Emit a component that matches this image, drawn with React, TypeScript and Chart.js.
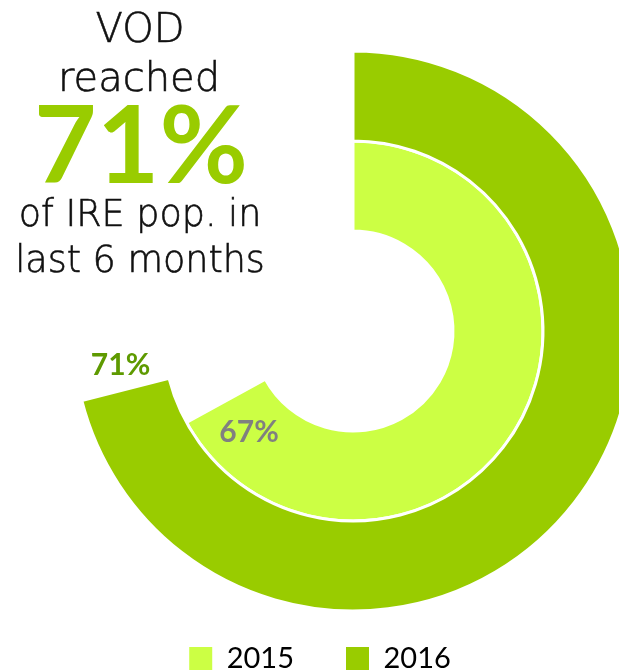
import React, { useEffect, useRef } from 'react';
import { Chart, registerables } from 'chart.js';

Chart.register(...registerables);

// ---- data ----
const years = ['2015', '2016'];
const reachPct = [67, 71];
const fullScale = 100;
const headlineTop = ['VOD', 'reached'];
const headlineBottom = ['of IRE pop. in', 'last 6 months'];

// ---- styles ----
const yearColors = ['#CCFF44', '#99CC00'];
const labelColors = ['#808080', '#5E9A00'];

const calloutPlugin = {
  id: 'callout',
  afterLayout(chart: any) {
    const lg = chart.legend;
    if (!lg) return;
    const pad = lg.options.labels.padding;
    const dx = 320 - (lg.left + lg.right) / 2;
    const dy = 644 - pad - lg.top;
    lg.left += dx;
    lg.right += dx;
    lg.top += dy;
    lg.bottom += dy;
  },
  afterDatasetsDraw(chart: any) {
    const ctx = chart.ctx;
    ctx.save();
    ctx.textAlign = 'center';
    ctx.textBaseline = 'middle';
    ctx.font = 'bold 30px Lato';
    // dataset 0 = 2016 (outer), dataset 1 = 2015 (inner)
    const specs = [
      { ds: 0, yi: 1, shift: 6 },
      { ds: 1, yi: 0, shift: -15.4 },
    ];
    specs.forEach((s) => {
      const arc: any = chart.getDatasetMeta(s.ds).data[0];
      if (!arc) return;
      const p = arc.getProps(['x', 'y', 'endAngle', 'innerRadius', 'outerRadius'], true);
      const a = p.endAngle + (s.shift * Math.PI) / 180;
      const r = (p.innerRadius + p.outerRadius) / 2;
      ctx.fillStyle = labelColors[s.yi];
      ctx.fillText(`${reachPct[s.yi]}%`, p.x + r * Math.cos(a), p.y + r * Math.sin(a));
    });
    ctx.restore();
  },
  afterDraw(chart: any) {
    const ctx = chart.ctx;
    ctx.save();
    ctx.textAlign = 'center';
    ctx.textBaseline = 'alphabetic';
    ctx.fillStyle = '#111111';
    ctx.strokeStyle = '#111111';
    ctx.lineWidth = 0.6;
    const thin = (t: string, x: number, y: number) => {
      ctx.fillText(t, x, y);
      ctx.strokeText(t, x, y);
    };
    ctx.font = '200 40px "DejaVu Sans"';
    thin(headlineTop[0], 140, 42);
    thin(headlineTop[1], 139, 91);
    ctx.fillStyle = yearColors[1];
    ctx.font = 'bold 108px Lato';
    ctx.fillText(`${reachPct[1]}%`, 141, 183);
    ctx.fillStyle = '#111111';
    ctx.font = '200 36.5px "DejaVu Sans"';
    thin(headlineBottom[0], 140, 226);
    thin(headlineBottom[1], 140, 272);
    ctx.restore();
  },
};

export default function App() {
  const ref = useRef<HTMLCanvasElement>(null);
  useEffect(() => {
    if (!ref.current) return;
    const outerIdx = 1;
    const innerIdx = 0;
    const chart = new Chart(ref.current, {
      type: 'doughnut',
      data: {
        labels: ['reached', 'not reached'],
        datasets: [
          {
            label: years[outerIdx],
            data: [reachPct[outerIdx], fullScale - reachPct[outerIdx]],
            backgroundColor: [yearColors[outerIdx], 'rgba(0,0,0,0)'],
            borderColor: '#ffffff',
            borderWidth: [3, 0],
            hoverOffset: 0,
            hoverBorderWidth: 0,
          },
          {
            label: years[innerIdx],
            data: [reachPct[innerIdx], fullScale - reachPct[innerIdx]],
            backgroundColor: [yearColors[innerIdx], 'rgba(0,0,0,0)'],
            borderColor: '#ffffff',
            borderWidth: [3, 0],
            hoverOffset: 0,
            hoverBorderWidth: 0,
          },
        ],
      },
      options: {
        animation: false,
        responsive: false,
        cutout: '35.71%',
        layout: { padding: { left: 71.5, right: 71.5, top: 49.5, bottom: 0.5 } },
        events: [],
        plugins: {
          tooltip: { enabled: false },
          legend: {
            position: 'bottom',
            onClick: () => {},
            labels: {
              font: { family: 'Lato', size: 29 },
              color: '#1a1a1a',
              boxWidth: 23,
              boxHeight: 23,
              padding: 52,
              generateLabels: () =>
                years.map((y, i) => ({
                  text: y,
                  fillStyle: yearColors[i],
                  strokeStyle: yearColors[i],
                  lineWidth: 0,
                  hidden: false,
                  datasetIndex: i,
                })),
            },
          },
        },
      },
      plugins: [calloutPlugin],
    } as any);
    return () => chart.destroy();
  }, []);
  return (
    <div
      style={{
        position: 'absolute',
        left: 0,
        top: 0,
        width: 619,
        height: 672,
        overflow: 'hidden',
        background: '#ffffff',
      }}
    >
      <canvas ref={ref} width={706} height={704} style={{ display: 'block' }} />
    </div>
  );
}
